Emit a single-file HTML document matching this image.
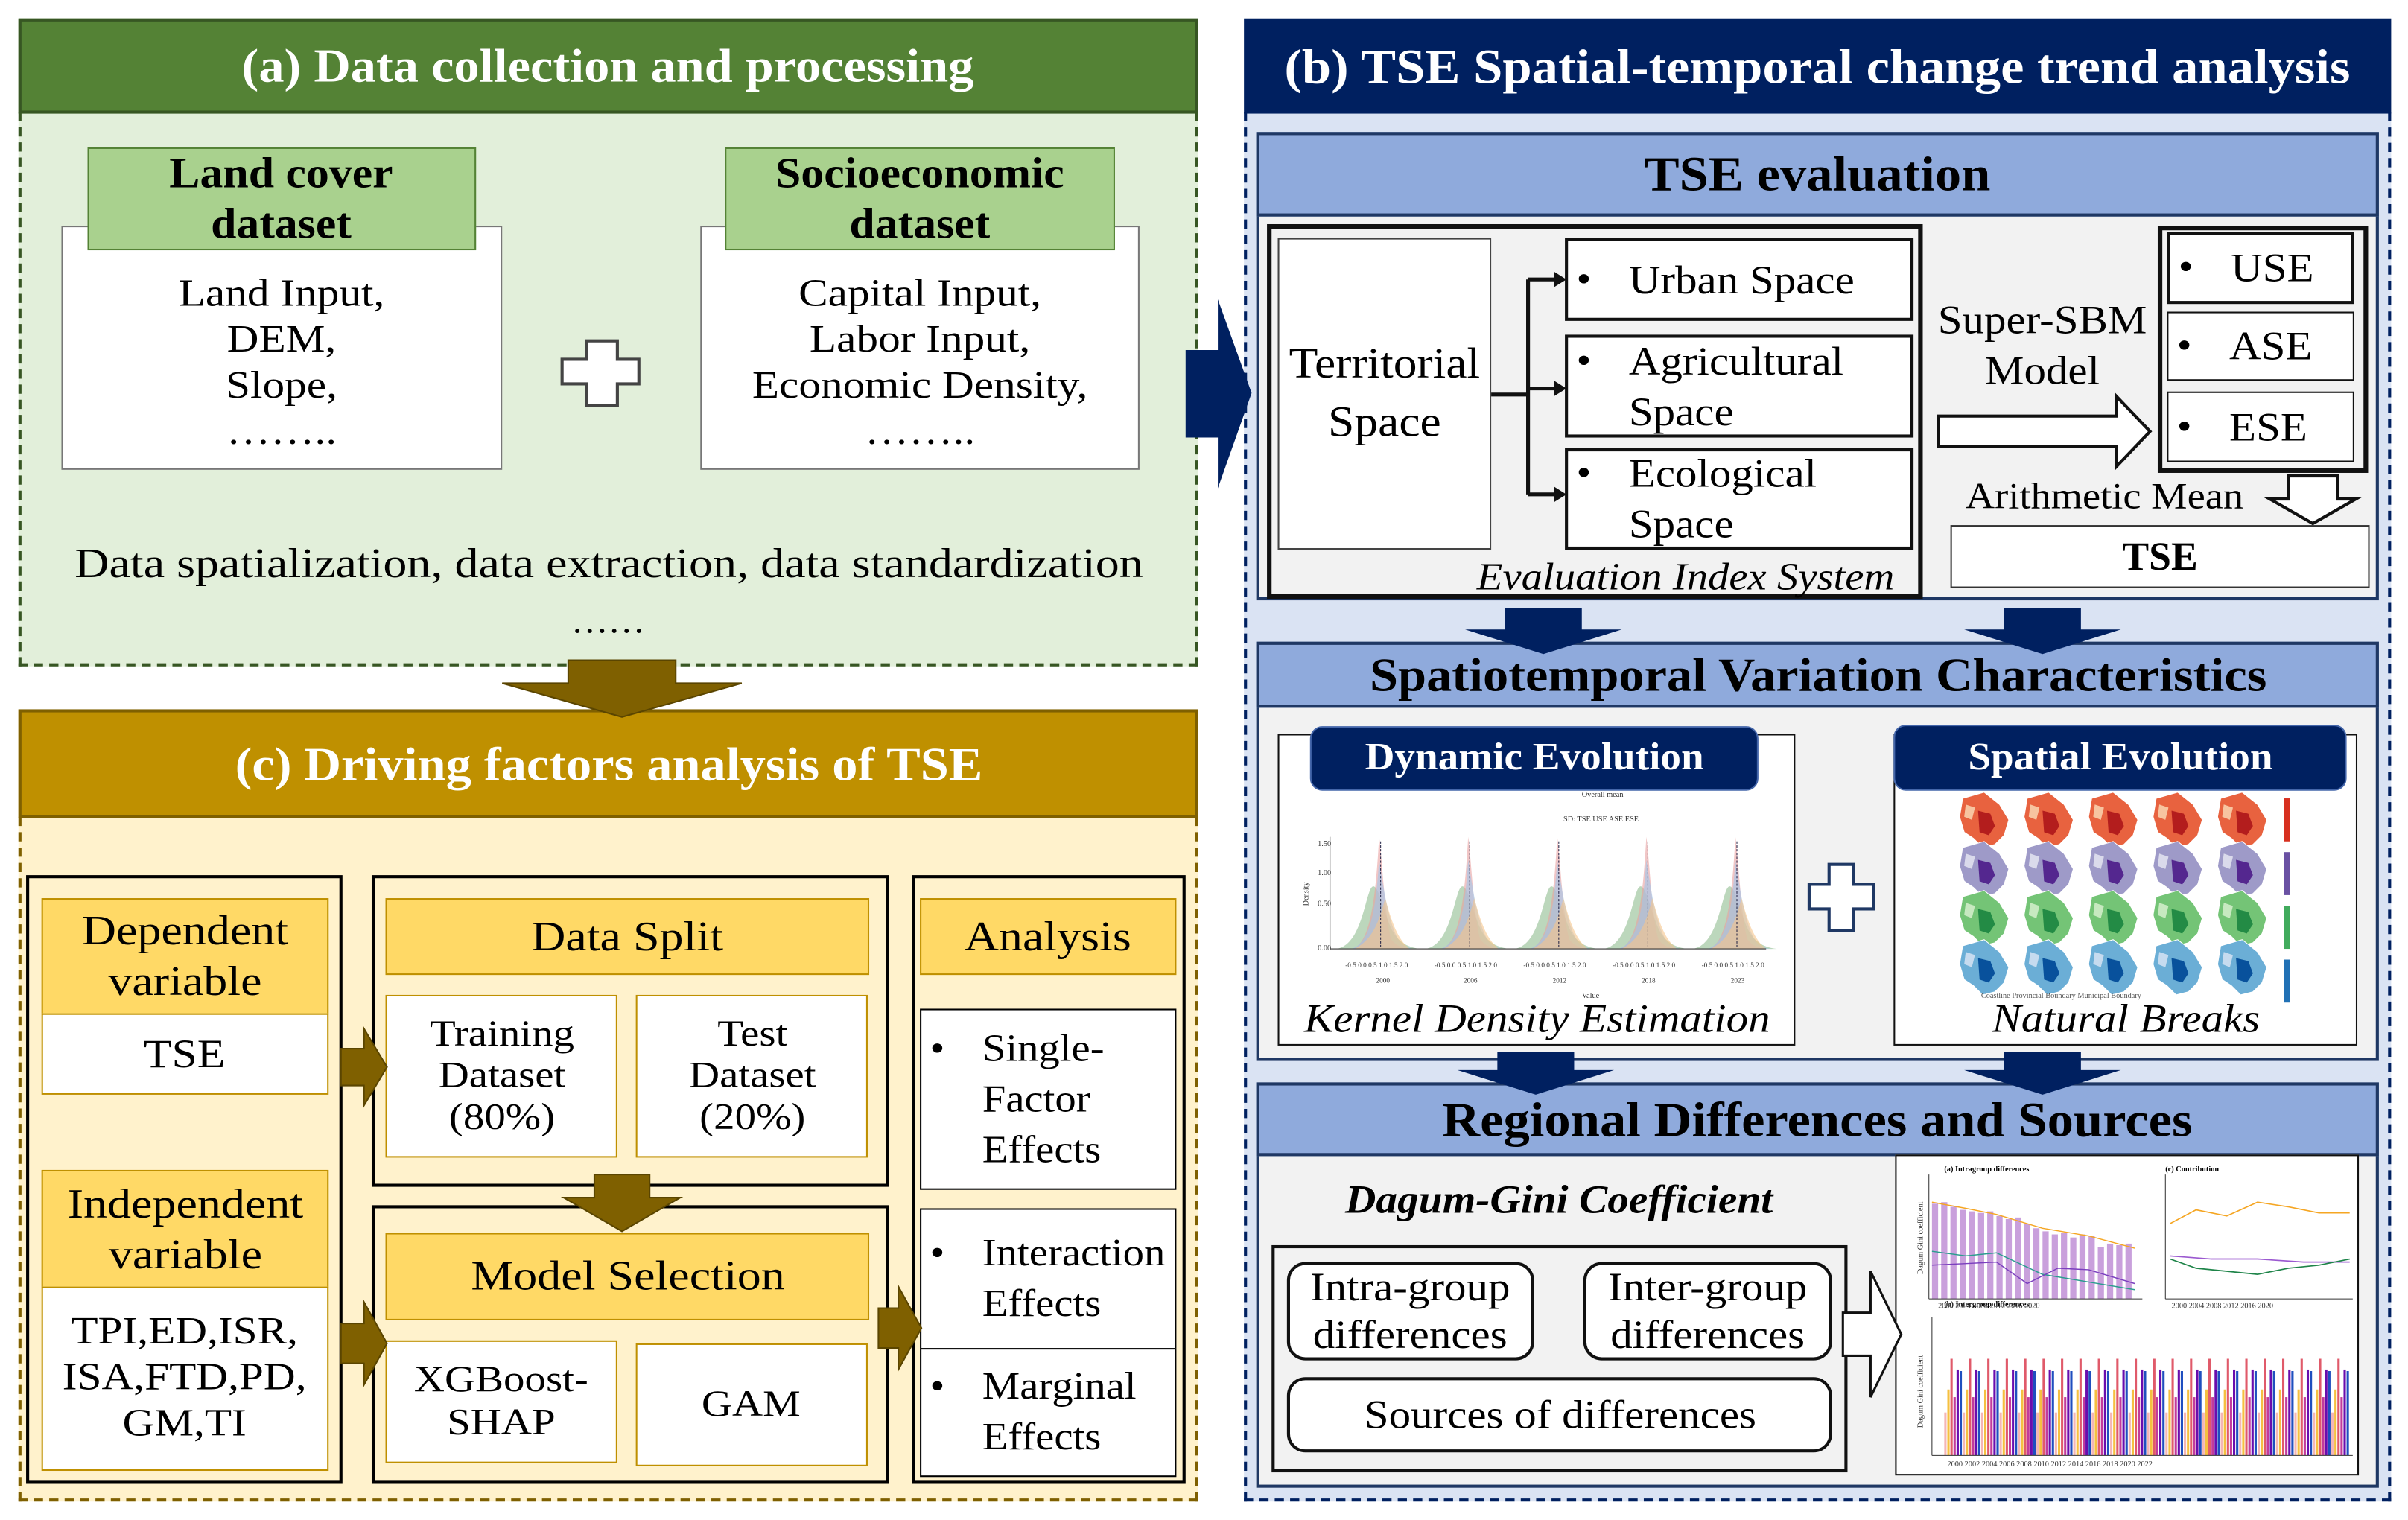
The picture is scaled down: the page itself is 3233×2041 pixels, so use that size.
<!DOCTYPE html>
<html><head><meta charset="utf-8">
<style>
html,body{margin:0;padding:0;background:#fff;overflow:hidden}
body{width:3233px;height:2041px}
#w{position:absolute;left:0;top:0;width:1568px;height:990px;transform:scale(2.0619,2.0616);transform-origin:0 0;font-family:"Liberation Serif",serif;color:#000}
.b{position:absolute;box-sizing:border-box}
.c{display:flex;align-items:center;justify-content:center;text-align:center}
.s{display:inline-block;transform:scaleX(1.15);white-space:nowrap}
.si{display:inline-block;transform:scaleX(1.1);white-space:nowrap}
.h{display:inline-block;transform:scaleX(1.07);white-space:nowrap}
.wh{background:#fff}
.li{display:flex;align-items:center;font-size:25px;line-height:33px}
.t{position:relative;padding-left:36px;transform:scaleX(1.1);transform-origin:0 50%;white-space:nowrap}
.t .d{position:absolute;left:5px;top:0;font-size:25px;line-height:33px}
</style></head><body><div id="w">

<!-- (a) -->
<div class="b" style="left:12px;top:73px;width:768px;height:361px;background:#e2efda;border:2px dashed #375623;border-top:none"></div>
<div class="b c" style="left:12px;top:12px;width:768px;height:62px;background:#548235;border:2px solid #375623;color:#fff;font-weight:bold;font-size:31px"><span class="h">(a) Data collection and processing</span></div>
<div class="b wh c" style="left:40px;top:147px;width:287px;height:159px;border:1px solid #777;font-size:25px;line-height:30px;padding-top:20px"><span class="s">Land Input,<br>DEM,<br>Slope,<br>……..</span></div>
<div class="b c" style="left:57px;top:96px;width:253px;height:67px;background:#a9d18e;border:1px solid #548235;font-weight:bold;font-size:28px;line-height:33px"><span class="h">Land cover<br>dataset</span></div>
<div class="b wh c" style="left:456px;top:147px;width:286px;height:159px;border:1px solid #777;font-size:25px;line-height:30px;padding-top:20px"><span class="s">Capital Input,<br>Labor Input,<br>Economic Density,<br>……..</span></div>
<div class="b c" style="left:472px;top:96px;width:254px;height:67px;background:#a9d18e;border:1px solid #548235;font-weight:bold;font-size:28px;line-height:33px"><span class="h">Socioeconomic<br>dataset</span></div>
<div class="b c" style="left:12px;top:350px;width:768px;height:34px;font-size:27px"><span class="s">Data spatialization, data extraction, data standardization</span></div>
<div class="b c" style="left:12px;top:390px;width:768px;height:30px;font-size:24px">……</div>

<!-- (c) -->
<div class="b" style="left:12px;top:532px;width:768px;height:446px;background:#fff2cc;border:2px dashed #7f6000;border-top:none"></div>
<div class="b c" style="left:12px;top:462px;width:768px;height:71px;background:#bf9000;border:2px solid #7f6000;color:#fff;font-weight:bold;font-size:31px"><span class="h">(c) Driving factors analysis of TSE</span></div>

<div class="b" style="left:17px;top:570px;width:206px;height:396px;border:2px solid #000"></div>
<div class="b c" style="left:27px;top:585px;width:187px;height:76px;background:#ffd966;border:1px solid #bf9000;font-size:27px;line-height:33px"><span class="s">Dependent<br>variable</span></div>
<div class="b wh c" style="left:27px;top:660px;width:187px;height:53px;border:1px solid #bf9000;font-size:26px"><span class="s">TSE</span></div>
<div class="b c" style="left:27px;top:762px;width:187px;height:77px;background:#ffd966;border:1px solid #bf9000;font-size:27px;line-height:33px"><span class="s">Independent<br>variable</span></div>
<div class="b wh c" style="left:27px;top:838px;width:187px;height:120px;border:1px solid #bf9000;font-size:25px;line-height:30px"><span class="s">TPI,ED,ISR,<br>ISA,FTD,PD,<br>GM,TI</span></div>

<div class="b" style="left:242px;top:570px;width:337px;height:203px;border:2px solid #000"></div>
<div class="b c" style="left:251px;top:585px;width:315px;height:50px;background:#ffd966;border:1px solid #bf9000;font-size:27px"><span class="s">Data Split</span></div>
<div class="b wh c" style="left:251px;top:648px;width:151px;height:106px;border:1px solid #bf9000;font-size:24px;line-height:27px"><span class="s">Training<br>Dataset<br>(80%)</span></div>
<div class="b wh c" style="left:414px;top:648px;width:151px;height:106px;border:1px solid #bf9000;font-size:24px;line-height:27px"><span class="s">Test<br>Dataset<br>(20%)</span></div>
<div class="b" style="left:242px;top:785px;width:337px;height:181px;border:2px solid #000"></div>
<div class="b c" style="left:251px;top:803px;width:315px;height:57px;background:#ffd966;border:1px solid #bf9000;font-size:27px"><span class="s">Model Selection</span></div>
<div class="b wh c" style="left:251px;top:873px;width:151px;height:80px;border:1px solid #bf9000;font-size:24px;line-height:28px"><span class="s">XGBoost-<br>SHAP</span></div>
<div class="b wh c" style="left:414px;top:875px;width:151px;height:80px;border:1px solid #bf9000;font-size:24px"><span class="s">GAM</span></div>

<div class="b" style="left:594px;top:570px;width:178px;height:396px;border:2px solid #000"></div>
<div class="b c" style="left:599px;top:585px;width:167px;height:50px;background:#ffd966;border:1px solid #bf9000;font-size:27px"><span class="s">Analysis</span></div>
<div class="b wh li" style="left:599px;top:657px;width:167px;height:118px;border:1px solid #000"><div class="t"><span class="d">•</span>Single-<br>Factor<br>Effects</div></div>
<div class="b wh li" style="left:599px;top:787px;width:167px;height:92px;border:1px solid #000"><div class="t"><span class="d">•</span>Interaction<br>Effects</div></div>
<div class="b wh li" style="left:599px;top:878px;width:167px;height:84px;border:1px solid #000"><div class="t"><span class="d">•</span>Marginal<br>Effects</div></div>

<!-- (b) -->
<div class="b" style="left:810px;top:73px;width:747px;height:905px;background:#dae3f3;border:2px dashed #002060;border-top:none"></div>
<div class="b c" style="left:810px;top:12px;width:747px;height:62px;background:#002060;color:#fff;font-weight:bold;font-size:32px"><span class="h">(b) TSE Spatial-temporal change trend analysis</span></div>

<div class="b" style="left:818px;top:86px;width:731px;height:305px;background:#f2f2f2;border:2px solid #1f3864"></div>
<div class="b c" style="left:818px;top:86px;width:731px;height:55px;background:#8faadc;border:2px solid #1f3864;font-weight:bold;font-size:32px"><span class="h">TSE evaluation</span></div>
<div class="b" style="left:825px;top:146px;width:427px;height:244px;border:3px solid #111"></div>
<div class="b wh c" style="left:832px;top:155px;width:139px;height:203px;border:1px solid #444;font-size:28px;line-height:38px"><span class="si">Territorial<br>Space</span></div>
<div class="b wh li" style="left:1019px;top:155px;width:227px;height:54px;border:2px solid #111;font-size:26px"><div class="t"><span class="d">•</span>Urban Space</div></div>
<div class="b wh li" style="left:1019px;top:218px;width:227px;height:67px;border:2px solid #111;font-size:26px"><div class="t"><span class="d">•</span>Agricultural<br>Space</div></div>
<div class="b wh li" style="left:1019px;top:292px;width:227px;height:66px;border:2px solid #111;font-size:26px"><div class="t"><span class="d">•</span>Ecological<br>Space</div></div>
<div class="b c" style="left:955px;top:362px;width:285px;height:30px;font-style:italic;font-size:25px"><span class="si">Evaluation Index System</span></div>
<div class="b c" style="left:1258px;top:192px;width:144px;height:66px;font-size:26px;line-height:33px"><span class="si">Super-SBM<br>Model</span></div>
<div class="b" style="left:1405px;top:147px;width:137px;height:161px;border:3px solid #111"></div>
<div class="b wh li" style="left:1411px;top:151px;width:122px;height:47px;border:2px solid #111;font-size:26px"><div class="t"><span class="d">•</span>USE</div></div>
<div class="b wh li" style="left:1411px;top:203px;width:122px;height:45px;border:1px solid #111;font-size:26px"><div class="t"><span class="d">•</span>ASE</div></div>
<div class="b wh li" style="left:1411px;top:255px;width:122px;height:46px;border:1px solid #111;font-size:26px"><div class="t"><span class="d">•</span>ESE</div></div>
<div class="b c" style="left:1272px;top:309px;width:196px;height:30px;font-size:24px"><span class="si">Arithmetic Mean</span></div>
<div class="b wh c" style="left:1270px;top:342px;width:273px;height:41px;border:1px solid #333;font-weight:bold;font-size:26px">TSE</div>

<div class="b" style="left:818px;top:418px;width:731px;height:273px;background:#f2f2f2;border:2px solid #1f3864"></div>
<div class="b c" style="left:818px;top:418px;width:731px;height:43px;background:#8faadc;border:2px solid #1f3864;font-weight:bold;font-size:31px"><span class="h">Spatiotemporal Variation Characteristics</span></div>
<div class="b wh" style="left:832px;top:478px;width:337px;height:203px;border:1px solid #111"></div>
<div class="b wh" style="left:1233px;top:478px;width:302px;height:203px;border:1px solid #111"></div>
<div class="b c" style="left:853px;top:473px;width:292px;height:42px;background:#002060;border-radius:8px;color:#fff;font-weight:bold;font-size:25px;border:1px solid #4466aa"><span class="h">Dynamic Evolution</span></div>
<div class="b c" style="left:1233px;top:472px;width:295px;height:43px;background:#002060;border-radius:8px;color:#fff;font-weight:bold;font-size:25px;border:1px solid #4466aa"><span class="h">Spatial Evolution</span></div>
<div class="b c" style="left:832px;top:648px;width:337px;height:32px;font-style:italic;font-size:26px"><span class="si">Kernel Density Estimation</span></div>
<div class="b c" style="left:1233px;top:648px;width:302px;height:32px;font-style:italic;font-size:26px"><span class="si">Natural Breaks</span></div>

<div class="b" style="left:818px;top:705px;width:731px;height:264px;background:#f2f2f2;border:2px solid #1f3864"></div>
<div class="b c" style="left:818px;top:705px;width:731px;height:48px;background:#8faadc;border:2px solid #1f3864;font-weight:bold;font-size:32px"><span class="h">Regional Differences and Sources</span></div>
<div class="b c" style="left:860px;top:764px;width:310px;height:36px;font-style:italic;font-weight:bold;font-size:26px"><span class="h">Dagum-Gini Coefficient</span></div>
<div class="b" style="left:828px;top:811px;width:375px;height:148px;border:2px solid #111"></div>
<div class="b wh c" style="left:838px;top:822px;width:161px;height:64px;border:2px solid #111;border-radius:12px;font-size:26px;line-height:31px"><span class="si">Intra-group<br>differences</span></div>
<div class="b wh c" style="left:1031px;top:822px;width:162px;height:64px;border:2px solid #111;border-radius:12px;font-size:26px;line-height:31px"><span class="si">Inter-group<br>differences</span></div>
<div class="b wh c" style="left:838px;top:897px;width:355px;height:49px;border:2px solid #111;border-radius:12px;font-size:26px"><span class="si">Sources of differences</span></div>
<div class="b wh" style="left:1234px;top:752px;width:302px;height:209px;border:1px solid #111"></div>

<svg class="b" style="left:0;top:0" width="1568" height="990" viewBox="0 0 1568 990">
<path d="M382,222h20v12h14v16h-14v14h-20v-14h-16v-16h16z" fill="#fff" stroke="#444" stroke-width="2"/>
<path d="M1191,563h16v13h13v16h-13v14h-16v-14h-13v-16h13z" fill="#fff" stroke="#1f3864" stroke-width="2"/>
<polygon points="370,430 440,430 440,445 483,445 405,467 327,445 370,445" fill="#7f6000" stroke="#5a4500"/>
<polygon points="387,765 423,765 423,780 443,780 405,802 367,780 387,780" fill="#7f6000" stroke="#5a4500"/>
<polygon points="222,683 237,683 237,670 252,695 237,720 237,707 222,707" fill="#7f6000" stroke="#5a4500"/>
<polygon points="222,862 237,862 237,848 252,875 237,902 237,888 222,888" fill="#7f6000" stroke="#5a4500"/>
<polygon points="572,852 585,852 585,838 600,865 585,892 585,878 572,878" fill="#7f6000" stroke="#5a4500"/>
<polygon points="772,228 793,228 793,195 815,256 793,318 793,285 772,285" fill="#002060"/>
<polygon points="980,396 1030,396 1030,410 1056,410 1005,426 954,410 980,410" fill="#002060"/>
<polygon points="1305,396 1355,396 1355,410 1381,410 1330,426 1279,410 1305,410" fill="#002060"/>
<polygon points="975,685 1025,685 1025,697 1051,697 1000,713 949,697 975,697" fill="#002060"/>
<polygon points="1305,685 1355,685 1355,697 1381,697 1330,713 1279,697 1305,697" fill="#002060"/>
<g stroke="#111" stroke-width="2.5" fill="none"><path d="M971,257h24M995,182v140M995,182h18M995,253h18M995,322h18"/></g>
<g fill="#111"><polygon points="1012,177 1020,182 1012,187"/><polygon points="1012,248 1020,253 1012,258"/><polygon points="1012,317 1020,322 1012,327"/></g>
<polygon points="1262,271 1378,271 1378,258 1400,281 1378,304 1378,291 1262,291" fill="#fff" stroke="#111" stroke-width="2"/>
<polygon points="1490,310 1522,310 1522,325 1534,325 1506,341 1478,325 1490,325" fill="#fff" stroke="#111" stroke-width="2"/>
<polygon points="1200,855 1218,855 1218,828 1238,869 1218,910 1218,883 1200,883" fill="#fff" stroke="#111" stroke-width="1.5"/>
<g font-family="Liberation Serif" font-size="5" fill="#333">
<text x="1030" y="519">Overall mean</text><text x="1018" y="535">SD: TSE  USE  ASE  ESE</text>
<line x1="866" y1="545" x2="866" y2="618" stroke="#333" stroke-width=".6"/>
<text x="858" y="551">1.50</text><text x="858" y="570">1.00</text><text x="858" y="590">0.50</text><text x="858" y="619">0.00</text>
<text x="852" y="590" transform="rotate(-90 852 590)">Density</text>
<text x="1030" y="650">Value</text>
</g>
<g id="k1">
<path d="M870,618 C885,616 888,590 892,580 C896,570 900,590 904,600 C908,612 915,617 925,618Z" fill="#8fbc8f" opacity=".6"/>
<path d="M880,618 C893,616 896,580 898,545 C900,560 902,600 906,612 C910,617 915,618 920,618Z" fill="#e8a0a0" opacity=".6"/>
<path d="M880,618 C893,614 896,590 898,560 C901,580 905,605 912,614 C915,617 920,618 922,618Z" fill="#a0c4ea" opacity=".6"/>
<path d="M882,618 C894,612 898,600 902,585 C906,600 910,612 918,618Z" fill="#f5c48a" opacity=".6"/>
<line x1="899" y1="548" x2="899" y2="618" stroke="#224" stroke-width=".5" stroke-dasharray="1.5,1"/>
</g>
<use href="#k1" x="58"/><use href="#k1" x="116"/><use href="#k1" x="174"/><use href="#k1" x="232"/>
<g font-family="Liberation Serif" font-size="4.5" fill="#333"><text x="876" y="630">-0.5 0.0 0.5 1.0 1.5 2.0</text><text x="934" y="630">-0.5 0.0 0.5 1.0 1.5 2.0</text><text x="992" y="630">-0.5 0.0 0.5 1.0 1.5 2.0</text><text x="1050" y="630">-0.5 0.0 0.5 1.0 1.5 2.0</text><text x="1108" y="630">-0.5 0.0 0.5 1.0 1.5 2.0</text>
<text x="896" y="640">2000</text><text x="953" y="640">2006</text><text x="1011" y="640">2012</text><text x="1069" y="640">2018</text><text x="1127" y="640">2023</text></g>
<line x1="866" y1="618" x2="1150" y2="618" stroke="#333" stroke-width=".5"/>
<g id="m1"><path d="M1278,520 l14,-4 l10,8 l6,10 l-3,10 l-6,6 l-8,2 l-6,-6 l-6,-4 l-3,-10z" fill="#e8623f" stroke="#fff" stroke-width=".5"/><path d="M1288,528 l8,2 l3,8 l-4,6 l-6,-2z" fill="#b31d1d"/><path d="M1280,524 l6,2 l-2,8 l-5,-2z" fill="#f7c4a0"/></g>
<use href="#m1" x="42"/><use href="#m1" x="84"/><use href="#m1" x="126"/><use href="#m1" x="168"/>
<g id="m2"><path d="M1278,552 l14,-4 l10,8 l6,10 l-3,10 l-6,6 l-8,2 l-6,-6 l-6,-4 l-3,-10z" fill="#9e9ac8" stroke="#fff" stroke-width=".5"/><path d="M1288,560 l8,2 l3,8 l-4,6 l-6,-2z" fill="#54278f"/><path d="M1280,556 l6,2 l-2,8 l-5,-2z" fill="#dadaeb"/></g>
<use href="#m2" x="42"/><use href="#m2" x="84"/><use href="#m2" x="126"/><use href="#m2" x="168"/>
<g id="m3"><path d="M1278,584 l14,-4 l10,8 l6,10 l-3,10 l-6,6 l-8,2 l-6,-6 l-6,-4 l-3,-10z" fill="#74c476" stroke="#fff" stroke-width=".5"/><path d="M1288,592 l8,2 l3,8 l-4,6 l-6,-2z" fill="#238b45"/><path d="M1280,588 l6,2 l-2,8 l-5,-2z" fill="#c7e9c0"/></g>
<use href="#m3" x="42"/><use href="#m3" x="84"/><use href="#m3" x="126"/><use href="#m3" x="168"/>
<g id="m4"><path d="M1278,616 l14,-4 l10,8 l6,10 l-3,10 l-6,6 l-8,2 l-6,-6 l-6,-4 l-3,-10z" fill="#6baed6" stroke="#fff" stroke-width=".5"/><path d="M1288,624 l8,2 l3,8 l-4,6 l-6,-2z" fill="#08519c"/><path d="M1280,620 l6,2 l-2,8 l-5,-2z" fill="#c6dbef"/></g>
<use href="#m4" x="42"/><use href="#m4" x="84"/><use href="#m4" x="126"/><use href="#m4" x="168"/>
<rect x="1487" y="520" width="4" height="28" fill="#d7301f"/><rect x="1487" y="555" width="4" height="28" fill="#6a51a3"/><rect x="1487" y="590" width="4" height="28" fill="#41ab5d"/><rect x="1487" y="625" width="4" height="28" fill="#2171b5"/>
<g font-family="Liberation Serif" font-size="5" fill="#555"><text x="1290" y="650">Coastline    Provincial Boundary    Municipal Boundary</text></g>
<g font-family="Liberation Serif" font-size="5" font-weight="bold"><text x="1266" y="763">(a) Intragroup differences</text><text x="1410" y="763">(c) Contribution</text><text x="1266" y="851">(b) Intergroup differences</text></g>
<g fill="#c9a0dc">
<rect x="1258" y="784" width="4" height="62"/><rect x="1264" y="783" width="4" height="63"/><rect x="1270" y="786" width="4" height="60"/><rect x="1276" y="788" width="4" height="58"/><rect x="1282" y="789" width="4" height="57"/><rect x="1288" y="790" width="4" height="56"/><rect x="1294" y="789" width="4" height="57"/><rect x="1300" y="792" width="4" height="54"/><rect x="1306" y="794" width="4" height="52"/><rect x="1312" y="793" width="4" height="53"/><rect x="1318" y="797" width="4" height="49"/><rect x="1324" y="800" width="4" height="46"/><rect x="1330" y="802" width="4" height="44"/><rect x="1336" y="804" width="4" height="42"/><rect x="1342" y="803" width="4" height="43"/><rect x="1348" y="806" width="4" height="40"/><rect x="1354" y="804" width="4" height="42"/><rect x="1360" y="805" width="4" height="41"/><rect x="1366" y="812" width="4" height="34"/><rect x="1372" y="810" width="4" height="36"/><rect x="1378" y="811" width="4" height="35"/><rect x="1384" y="810" width="4" height="36"/>
</g>
<polyline points="1258,783 1280,787 1300,791 1330,800 1360,805 1390,813" fill="none" stroke="#f5a623" stroke-width=".7"/>
<polyline points="1258,815 1280,818 1300,816 1330,830 1360,835 1390,840" fill="none" stroke="#2a9d8f" stroke-width=".7"/>
<polyline points="1258,824 1280,823 1300,822 1320,836 1340,826 1360,827 1390,836" fill="none" stroke="#7b3fbf" stroke-width=".7"/>
<polyline points="1413,797 1430,788 1450,792 1470,783 1490,786 1510,790 1530,790" fill="none" stroke="#f5a623" stroke-width=".8"/>
<polyline points="1413,818 1440,820 1470,820 1500,822 1530,822" fill="none" stroke="#9b59d0" stroke-width=".8"/>
<polyline points="1413,820 1430,826 1450,828 1470,830 1490,826 1510,824 1530,820" fill="none" stroke="#1e8449" stroke-width=".8"/>
<line x1="1256" y1="846" x2="1395" y2="846" stroke="#333" stroke-width=".5"/><line x1="1256" y1="765" x2="1256" y2="846" stroke="#333" stroke-width=".5"/>
<line x1="1410" y1="846" x2="1532" y2="846" stroke="#333" stroke-width=".5"/><line x1="1410" y1="765" x2="1410" y2="846" stroke="#333" stroke-width=".5"/>
<g id="bg">
<rect x="1266" y="920" width="1.5" height="28" fill="#f4b6b6"/><rect x="1268" y="905" width="1.5" height="43" fill="#f5c040"/><rect x="1270" y="885" width="1.5" height="63" fill="#e05a6a"/><rect x="1272" y="910" width="1.5" height="38" fill="#c23b9b"/><rect x="1274" y="892" width="1.5" height="56" fill="#6a0dad"/><rect x="1276" y="893" width="1.5" height="55" fill="#1f4fbf"/>
</g>
<use href="#bg" x="12"/><use href="#bg" x="24"/><use href="#bg" x="36"/><use href="#bg" x="48"/><use href="#bg" x="60"/><use href="#bg" x="72"/><use href="#bg" x="84"/><use href="#bg" x="96"/><use href="#bg" x="108"/><use href="#bg" x="120"/><use href="#bg" x="132"/><use href="#bg" x="144"/><use href="#bg" x="156"/><use href="#bg" x="168"/><use href="#bg" x="180"/><use href="#bg" x="192"/><use href="#bg" x="204"/><use href="#bg" x="216"/><use href="#bg" x="228"/><use href="#bg" x="240"/><use href="#bg" x="252"/>
<line x1="1258" y1="948" x2="1532" y2="948" stroke="#333" stroke-width=".5"/><line x1="1258" y1="858" x2="1258" y2="948" stroke="#333" stroke-width=".5"/>
<g font-family="Liberation Serif" font-size="5" fill="#333"><text x="1268" y="955">2000   2002   2004   2006   2008   2010   2012   2014   2016   2018   2020   2022</text>
<text x="1262" y="852">2000  2004  2008  2012  2016  2020</text><text x="1414" y="852">2000  2004  2008  2012  2016  2020</text>
<text x="1252" y="830" transform="rotate(-90 1252 830)">Dagum Gini coefficient</text><text x="1252" y="930" transform="rotate(-90 1252 930)">Dagum Gini coefficient</text></g>
</svg>
</div></body></html>
